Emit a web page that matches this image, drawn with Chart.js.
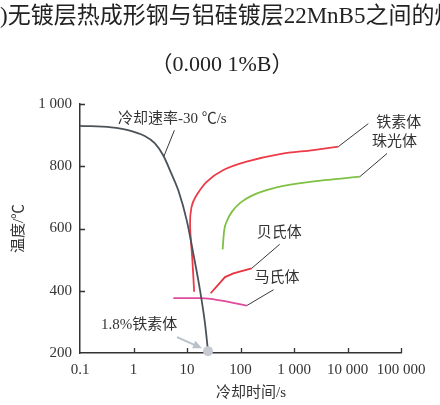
<!DOCTYPE html>
<html>
<head>
<meta charset="utf-8">
<script src="https://cdn.jsdelivr.net/npm/chart.js@4/dist/chart.umd.min.js"></script>
<style>
  html, body { margin: 0; padding: 0; background: #fff; }
  #wrap { position: relative; width: 440px; height: 405px; }
</style>
</head>
<body>
<div id="wrap"><canvas id="c" width="440" height="405"></canvas></div>
<script>
// Axis ticks
const xTickValues = [0.1, 1, 10, 100, 1000, 10000, 100000];
const xTickLabels = ['0.1', '1', '10', '100', '1 000', '10 000', '100 000'];
const yTickValues = [200, 400, 600, 800, 1000];
const yTickLabels = ['200', '400', '600', '800', '1 000'];

// Cooling curve at 30 °C/s (time in s, temperature in °C)
const coolTime = [0.1, 0.385, 0.79, 1.62, 2.49, 3.56, 5.09, 6.9, 9.86, 13.1, 17.5, 21.7, 24.7];
const coolTemp = [930, 925, 916, 897, 874, 836, 777, 722, 627, 520, 402, 295, 206];

// Ferrite start line
const ferriteTime = [13.6, 12.6, 11.4, 12.1, 14.5, 23.3, 47.8, 130, 547, 2296, 6730];
const ferriteTemp = [397, 500, 612, 668, 702, 750, 788, 815, 839, 852, 863];

// Pearlite start line
const pearliteTime = [46.4, 49.2, 56, 70, 100, 160, 474, 1991, 8356, 17140];
const pearliteTemp = [533, 590, 625, 655, 683, 705, 732, 750, 761, 767];

// Bainite start line
const bainiteTime = [27.7, 51.3, 73.5, 161.8];
const bainiteTemp = [392, 444, 456, 472];

// Martensite start line
const martensiteTime = [5.55, 18.7, 44.4, 130];
const martensiteTemp = [376, 376, 368, 352];

// Final point of the cooling path (1.8% ferrite)
const endTime = [24.7];
const endTemp = [206];

const pts = (xs, ys) => xs.map((x, i) => ({ x: x, y: ys[i] }));

const serif = '"Liberation Serif", "Noto Sans CJK SC", serif';

// Labels with leader lines: anchor is a data point, line runs to an offset (px), text placed at offset
const callouts = [
  { text: '冷却速率-30 ℃/s', at: { x: 3.7, y: 832 }, to: [10.5, -26], tx: [-46, -37] },
  { text: '铁素体', at: { x: ferriteTime[ferriteTime.length - 1], y: ferriteTemp[ferriteTemp.length - 1] }, to: [30, -23], tx: [38, -24] },
  { text: '珠光体', at: { x: pearliteTime[pearliteTime.length - 1], y: pearliteTemp[pearliteTemp.length - 1] }, to: [27, -23], tx: [12, -34] },
  { text: '贝氏体', at: { x: bainiteTime[bainiteTime.length - 1], y: bainiteTemp[bainiteTemp.length - 1] }, to: [28, -24], tx: [5, -35] },
  { text: '马氏体', at: { x: martensiteTime[martensiteTime.length - 1], y: martensiteTemp[martensiteTemp.length - 1] }, to: [27, -16], tx: [8, -28] }
];

const decor = {
  id: 'decor',
  afterDraw(chart) {
    const ctx = chart.ctx;
    const xs = chart.scales.x, ys = chart.scales.y;
    const a = chart.chartArea;
    ctx.save();

    // inward tick marks
    ctx.strokeStyle = '#333';
    ctx.lineWidth = 1.3;
    ctx.beginPath();
    xTickValues.forEach(v => {
      const px = Math.round(xs.getPixelForValue(v)) + 0.5;
      if (px > a.left + 2) { ctx.moveTo(px, a.bottom); ctx.lineTo(px, a.bottom - 5); }
    });
    yTickValues.forEach(v => {
      const py = Math.round(ys.getPixelForValue(v)) + 0.5;
      if (py < a.bottom - 2) { ctx.moveTo(a.left, py); ctx.lineTo(a.left + 5, py); }
    });
    ctx.stroke();

    // heading
    ctx.fillStyle = '#222';
    ctx.textBaseline = 'middle';
    ctx.textAlign = 'left';
    ctx.font = '23px ' + serif;
    ctx.fillText(')无镀层热成形钢与铝硅镀层22MnB5之间的焊', 0, 17);
    ctx.textAlign = 'center';
    ctx.font = '22px ' + serif;
    ctx.fillText('（0.000 1%B）', 222, 65);

    // axis titles
    ctx.font = '15px ' + serif;
    ctx.fillStyle = '#333';
    ctx.fillText('冷却时间/s', 251, 393);
    ctx.save();
    ctx.translate(19, (a.top + a.bottom) / 2);
    ctx.rotate(-Math.PI / 2);
    ctx.fillText('温度/℃', 0, 0);
    ctx.restore();

    // callouts
    ctx.textAlign = 'left';
    callouts.forEach(c => {
      const px = xs.getPixelForValue(c.at.x), py = ys.getPixelForValue(c.at.y);
      ctx.strokeStyle = '#222';
      ctx.lineWidth = 0.9;
      ctx.beginPath();
      ctx.moveTo(px, py);
      ctx.lineTo(px + c.to[0], py + c.to[1]);
      ctx.stroke();
      ctx.fillStyle = '#333';
      ctx.fillText(c.text, px + c.tx[0], py + c.tx[1]);
    });

    // 1.8% ferrite note with arrow towards the end point
    const ex = xs.getPixelForValue(endTime[0]), ey = ys.getPixelForValue(endTemp[0]);
    ctx.fillStyle = '#333';
    ctx.fillText('1.8%铁素体', 101, 325);
    const sx = ex - 31, sy = ey - 14, tx = ex - 6, ty = ey - 3;
    const ang = Math.atan2(ty - sy, tx - sx);
    ctx.strokeStyle = '#b9c1c9';
    ctx.fillStyle = '#b9c1c9';
    ctx.lineWidth = 2;
    ctx.beginPath();
    ctx.moveTo(sx, sy);
    ctx.lineTo(tx - 7 * Math.cos(ang), ty - 7 * Math.sin(ang));
    ctx.stroke();
    ctx.beginPath();
    ctx.moveTo(tx, ty);
    ctx.lineTo(tx - 9 * Math.cos(ang) + 4 * Math.sin(ang), ty - 9 * Math.sin(ang) - 4 * Math.cos(ang));
    ctx.lineTo(tx - 9 * Math.cos(ang) - 4 * Math.sin(ang), ty - 9 * Math.sin(ang) + 4 * Math.cos(ang));
    ctx.closePath();
    ctx.fill();

    ctx.restore();
  }
};

const line = (data, color, width, tension, mode) => ({
  data: data, showLine: true, borderColor: color, backgroundColor: color,
  borderWidth: width, pointRadius: 0, pointHoverRadius: 0, tension: tension,
  cubicInterpolationMode: mode || 'default', clip: false
});

new Chart(document.getElementById('c'), {
  type: 'scatter',
  data: {
    datasets: [
      { data: pts(endTime, endTemp), pointRadius: 5, pointBackgroundColor: '#c6cbd1', pointBorderWidth: 0, showLine: false, clip: false },
      line(pts(coolTime, coolTemp), '#4b5359', 1.8, 0.4, 'monotone'),
      line(pts(ferriteTime, ferriteTemp), '#ee3b48', 1.8, 0.35),
      line(pts(pearliteTime, pearliteTemp), '#80c144', 1.8, 0.4, 'monotone'),
      line(pts(bainiteTime, bainiteTemp), '#e8333f', 1.8, 0),
      line(pts(martensiteTime, martensiteTemp), '#e24b9c', 1.8, 0.4, 'monotone')
    ]
  },
  options: {
    responsive: false,
    animation: false,
    devicePixelRatio: 1,
    layout: { padding: { top: 104, right: 39, left: 0, bottom: 0 } },
    plugins: { legend: { display: false }, tooltip: { enabled: false } },
    scales: {
      x: {
        type: 'logarithmic', min: 0.1, max: 100000,
        afterBuildTicks: s => { s.ticks = xTickValues.map(v => ({ value: v })); },
        afterFit: s => { s.height = 52; },
        ticks: {
          autoSkip: false, maxRotation: 0, padding: 8, color: '#333',
          font: { family: serif, size: 15 },
          callback: v => xTickLabels[xTickValues.indexOf(v)]
        },
        grid: { display: true, drawOnChartArea: false, drawTicks: false },
        border: { display: true, color: '#333', width: 1.5 }
      },
      y: {
        type: 'linear', min: 200, max: 1000,
        afterBuildTicks: s => { s.ticks = yTickValues.map(v => ({ value: v })); },
        afterFit: s => { s.width = 80; },
        ticks: {
          autoSkip: false, padding: 8, color: '#333',
          font: { family: serif, size: 15 },
          callback: v => yTickLabels[yTickValues.indexOf(v)]
        },
        grid: { display: true, drawOnChartArea: false, drawTicks: false },
        border: { display: true, color: '#333', width: 1.5 }
      }
    }
  },
  plugins: [decor]
});
</script>
</body>
</html>
